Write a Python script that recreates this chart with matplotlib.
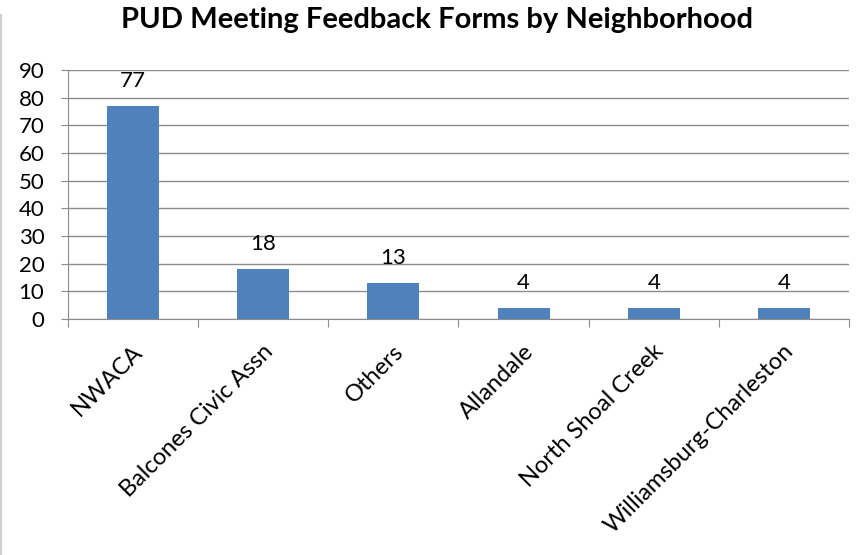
import matplotlib
matplotlib.use("Agg")
import matplotlib.pyplot as plt
from matplotlib.lines import Line2D
import numpy as np

categories = ["NWACA", "Balcones Civic Assn", "Others", "Allandale",
              "North Shoal Creek", "Williamsburg-Charleston"]
counts = [77, 18, 13, 4, 4, 4]
y_ticks = list(range(0, 91, 10))

plt.rcParams["font.family"] = ["Lato", "DejaVu Sans"]

fig = plt.figure(figsize=(8.6, 5.55), dpi=100)
ax = fig.add_axes([68 / 860, 1 - 319 / 555, 781 / 860, 249 / 555])

x = np.arange(len(categories))
ax.bar(x, counts, width=0.4, color="#4F81BD", zorder=3)
for xi, v in zip(x, counts):
    ax.annotate(str(v), (xi, v), xytext=(0, 11), textcoords="offset points",
                ha="center", va="bottom", fontsize=16)

ax.set_xlim(-0.5, len(categories) - 0.5)
ax.set_ylim(0, 90)
ax.set_yticks(y_ticks)
ax.grid(axis="y", color="#8c8c8c", linewidth=1, zorder=0)
ax.tick_params(axis="y", length=5, color="#8c8c8c", labelsize=16, pad=12)

# category boundary ticks, labels at centres
ax.set_xticks(np.arange(-0.5, len(categories)), minor=False)
ax.set_xticklabels([])
ax.tick_params(axis="x", length=6, color="#8c8c8c")
for xi, name in zip(x, categories):
    ax.text(xi + 0.05, -10.5, name, rotation=45, rotation_mode="anchor",
            ha="right", va="center", fontsize=17, transform=ax.transData)

for side in ("top", "right"):
    ax.spines[side].set_visible(False)
for side in ("left", "bottom"):
    ax.spines[side].set_color("#8c8c8c")

fig.text(437 / 860, 1 - 20 / 555, "PUD Meeting Feedback Forms by Neighborhood",
         ha="center", va="center", fontsize=21, fontweight="bold")

fig.add_artist(Line2D([1 / 860, 1 / 860], [0, 1 - 15 / 555], color="#d0d0d0",
                      linewidth=1.5))

fig.savefig("out.png", dpi=100)
